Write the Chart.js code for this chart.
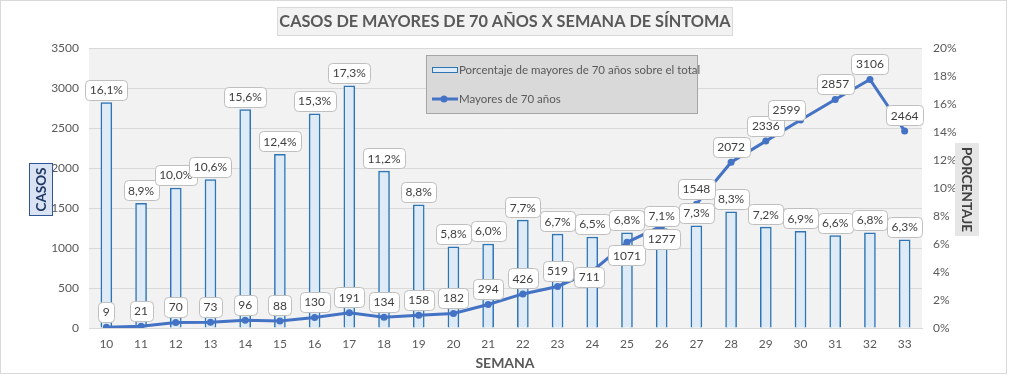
<!DOCTYPE html>
<html>
<head>
<meta charset="utf-8">
<script src="https://cdn.jsdelivr.net/npm/chart.js@4/dist/chart.umd.min.js"></script>
<style>
body{margin:0;background:#fff;}
canvas{display:block;}
</style>
</head>
<body>
<canvas id="grafico" width="1009" height="376"></canvas>
<script>
// -------- DATOS
const semanas = ["10","11","12","13","14","15","16","17","18","19","20","21","22","23","24","25","26","27","28","29","30","31","32","33"];
const porcentaje = [16.1,8.9,10.0,10.6,15.6,12.4,15.3,17.3,11.2,8.8,5.8,6.0,7.7,6.7,6.5,6.8,7.1,7.3,8.3,7.2,6.9,6.6,6.8,6.3];
const casos = [9,21,70,73,96,88,130,191,134,158,182,294,426,519,711,1071,1277,1548,2072,2336,2599,2857,3106,2464];

// posicion de las etiquetas de la linea (por defecto arriba)
const posEtiqueta = {14:"centro", 15:"abajo", 16:"abajo", 20:"izq"};

const FUENTE = "Lato, 'Open Sans', sans-serif";
const GRIS = "#595959";

function caja(ctx, txt, cx, cy){
  ctx.font = "12px " + FUENTE;
  const w = Math.round(ctx.measureText(txt).width + 9);
  const h = 20;
  const x = Math.round(cx - w/2) + 0.5, y = Math.round(cy - h/2) + 0.5;
  ctx.beginPath();
  if(ctx.roundRect) ctx.roundRect(x, y, w, h, 4); else ctx.rect(x, y, w, h);
  ctx.fillStyle = "#fff";
  ctx.fill();
  ctx.strokeStyle = "#bfbfbf";
  ctx.lineWidth = 1;
  ctx.stroke();
  ctx.fillStyle = "#404040";
  ctx.textAlign = "center";
  ctx.textBaseline = "middle";
  ctx.fillText(txt, cx, cy + 0.5);
}

const decor = {
  id: "decor",
  beforeDraw(chart){
    const {ctx, chartArea:a} = chart;
    ctx.save();
    ctx.fillStyle = "#fff";
    ctx.fillRect(0, 0, chart.width, chart.height);
    ctx.fillStyle = "#f2f2f2";
    ctx.fillRect(a.left, a.top, a.right - a.left, a.bottom - a.top);
    ctx.restore();
  },
  afterDatasetsDraw(chart){
    const ctx = chart.ctx;
    ctx.save();
    // etiquetas de barras
    chart.getDatasetMeta(0).data.forEach((el, i) => {
      caja(ctx, porcentaje[i].toFixed(1).replace(".", ",") + "%", el.x, el.y - 13);
    });
    // etiquetas de la linea
    chart.getDatasetMeta(1).data.forEach((el, i) => {
      let dx = 0, dy = -15.5;
      const p = posEtiqueta[i];
      if(p === "centro"){ dx = -3; dy = 6; }
      if(p === "abajo"){ dy = 13; }
      if(p === "izq"){ dx = -14; dy = -10; }
      caja(ctx, String(casos[i]), el.x + dx, el.y + dy);
    });
    ctx.restore();
  },
  afterDraw(chart){
    const ctx = chart.ctx;
    ctx.save();

    // titulo
    ctx.fillStyle = "#f2f2f2";
    ctx.fillRect(277, 7, 456, 29);
    ctx.strokeStyle = "#d9d9d9";
    ctx.lineWidth = 1;
    ctx.strokeRect(277.5, 7.5, 455, 28);
    ctx.fillStyle = GRIS;
    ctx.font = "bold 16.3px " + FUENTE;
    ctx.textAlign = "center";
    ctx.textBaseline = "middle";
    ctx.fillText("CASOS DE MAYORES DE 70 AÑOS X SEMANA DE SÍNTOMA", 505, 22);

    // titulo eje izquierdo
    ctx.fillStyle = "#dae3f3";
    ctx.fillRect(29, 163, 23, 52);
    ctx.strokeStyle = "#2f5597";
    ctx.strokeRect(29.5, 163.5, 23, 52);
    ctx.save();
    ctx.translate(41, 189.5);
    ctx.rotate(-Math.PI/2);
    ctx.fillStyle = "#1f3864";
    ctx.font = "bold 13.5px " + FUENTE;
    ctx.fillText("CASOS", 0, 1);
    ctx.restore();

    // titulo eje derecho
    ctx.fillStyle = "#e7e6e6";
    ctx.fillRect(955, 143, 24, 93);
    ctx.save();
    ctx.translate(967, 189.5);
    ctx.rotate(Math.PI/2);
    ctx.fillStyle = "#404040";
    ctx.font = "bold 13.5px " + FUENTE;
    ctx.fillText("PORCENTAJE", 0, 1);
    ctx.restore();

    // titulo eje x
    ctx.fillStyle = GRIS;
    ctx.font = "bold 14px " + FUENTE;
    ctx.fillText("SEMANA", 505, 363);

    // leyenda
    ctx.fillStyle = "#d9d9d9";
    ctx.fillRect(426, 55, 272, 59);
    ctx.strokeStyle = "#a6a6a6";
    ctx.strokeRect(426.5, 55.5, 271, 58);
    const bar = chart.data.datasets[0], lin = chart.data.datasets[1];
    ctx.fillStyle = bar.backgroundColor;
    ctx.fillRect(432, 67, 26, 6);
    ctx.strokeStyle = bar.borderColor;
    ctx.strokeRect(432.5, 67.5, 25, 5);
    ctx.strokeStyle = lin.borderColor;
    ctx.lineWidth = 3;
    ctx.beginPath();
    ctx.moveTo(432, 99);
    ctx.lineTo(458, 99);
    ctx.stroke();
    ctx.fillStyle = lin.borderColor;
    ctx.beginPath();
    ctx.arc(444, 99, 3.5, 0, Math.PI*2);
    ctx.fill();
    ctx.fillStyle = GRIS;
    ctx.font = "11.5px " + FUENTE;
    ctx.textAlign = "left";
    ctx.fillText(bar.label, 459, 70);
    ctx.fillText(lin.label, 459, 99);

    // borde del grafico
    ctx.strokeStyle = "#d9d9d9";
    ctx.lineWidth = 1;
    ctx.strokeRect(0.5, 0.5, 1006, 373);
    ctx.restore();
  }
};

new Chart(
document.getElementById("grafico"),
{
type:"bar",
data:{
labels: semanas,
datasets:[
{
type:"bar",
label:"Porcentaje de mayores de 70 años sobre el total",
data: porcentaje,
yAxisID:"y1",
backgroundColor:"#deebf7",
borderColor:"#2e75b6",
borderWidth:1.5,
barThickness:11,
order:2
},
{
type:"line",
label:"Mayores de 70 años",
data: casos,
yAxisID:"y",
borderColor:"#4472c4",
backgroundColor:"#4472c4",
borderWidth:3,
pointRadius:3.5,
pointBorderWidth:0,
pointBackgroundColor:"#4472c4",
tension:0,
order:1
}
]
},
options:{
responsive:false,
animation:false,
layout:{padding:{top:48, left:0, right:0, bottom:0}},
plugins:{legend:{display:false}, tooltip:{enabled:false}},
scales:{
x:{
grid:{display:true, drawOnChartArea:false, drawTicks:false},
border:{display:true, color:"#d9d9d9"},
ticks:{color:GRIS, font:{family:FUENTE, size:12}, padding:9, maxRotation:0, autoSkip:false},
afterFit: s => { s.height = 48; }
},
y:{
position:"left",
min:0, max:3500,
ticks:{stepSize:500, color:GRIS, font:{family:FUENTE, size:12}, padding:10, callback: v => String(v)},
grid:{color:"#d9d9d9", drawTicks:false},
border:{display:false},
afterFit: s => { s.width = 89; }
},
y1:{
position:"right",
min:0, max:20,
ticks:{stepSize:2, color:GRIS, font:{family:FUENTE, size:12}, padding:11, callback: v => v + "%"},
grid:{drawOnChartArea:false, drawTicks:false},
border:{display:false},
afterFit: s => { s.width = 87; }
}
}
},
plugins:[decor]
}
);
</script>
</body>
</html>
